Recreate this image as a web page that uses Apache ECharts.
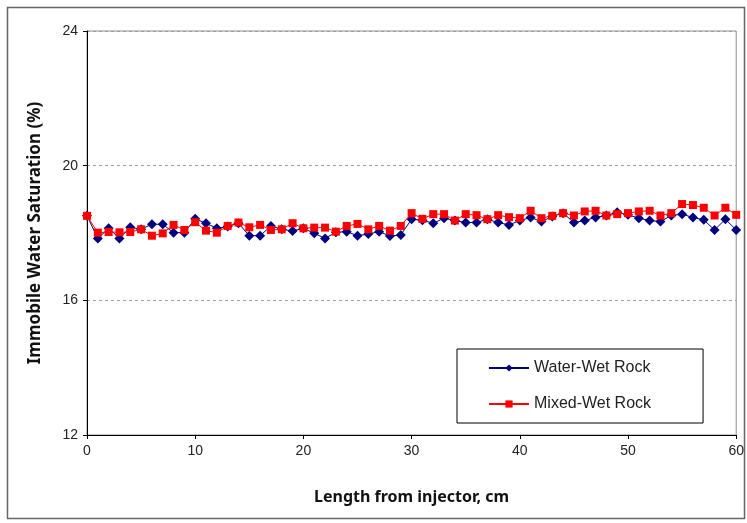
<!DOCTYPE html>
<html>
<head>
<meta charset="utf-8">
<script src="https://cdn.jsdelivr.net/npm/echarts@6/dist/echarts.min.js"></script>
<style>
html,body{margin:0;padding:0;background:#fff;}
#chart{width:747px;height:523px;}
</style>
</head>
<body>
<div id="chart"></div>
<script>
// Distance from injector (cm), sampled every 1 cm
const lengthCm = [0,1,2,3,4,5,6,7,8,9,10,11,12,13,14,15,16,17,18,19,20,
  21,22,23,24,25,26,27,28,29,30,31,32,33,34,35,36,37,38,39,40,
  41,42,43,44,45,46,47,48,49,50,51,52,53,54,55,56,57,58,59,60];

// Immobile water saturation (%) in the water-wet rock
const waterWet = [18.51,17.84,18.14,17.84,18.17,18.11,18.26,18.26,18.01,18.01,18.42,
  18.29,18.14,18.19,18.29,17.92,17.92,18.21,18.11,18.06,18.14,
  17.99,17.84,18.02,18.04,17.92,17.97,18.04,17.91,17.94,18.41,
  18.38,18.29,18.44,18.37,18.31,18.31,18.41,18.31,18.24,18.37,
  18.46,18.34,18.49,18.59,18.31,18.37,18.46,18.52,18.62,18.54,
  18.44,18.37,18.34,18.52,18.56,18.46,18.39,18.09,18.41,18.09];

// Immobile water saturation (%) in the mixed-wet rock
const mixedWet = [18.51,18.01,18.03,18.02,18.03,18.11,17.92,17.99,18.24,18.09,18.32,
  18.07,18.01,18.21,18.31,18.17,18.24,18.09,18.11,18.29,18.14,
  18.16,18.16,18.04,18.21,18.27,18.11,18.21,18.07,18.21,18.59,
  18.42,18.56,18.56,18.37,18.56,18.53,18.41,18.53,18.47,18.44,
  18.66,18.44,18.51,18.59,18.52,18.64,18.66,18.52,18.56,18.59,
  18.64,18.66,18.52,18.59,18.86,18.83,18.75,18.52,18.75,18.54];

const yTicks = [12, 16, 20, 24];
const xTicks = [0, 10, 20, 30, 40, 50, 60];

const pair = (xs, ys) => xs.map((x, i) => [x, ys[i]]);

const chart = echarts.init(document.getElementById('chart'), null, {renderer: 'canvas'});

chart.setOption({
  animation: false,
  backgroundColor: '#fff',
  graphic: [{
    type: 'rect',
    shape: {x: 7.5, y: 7.5, width: 737, height: 511},
    style: {fill: 'none', stroke: '#666', lineWidth: 1.5},
    silent: true,
    z: -1
  }],
  grid: {
    left: 87, right: 10, top: 31, bottom: 88,
    show: true, borderColor: '#8c8c8c', borderWidth: 1
  },
  xAxis: {
    type: 'value',
    min: xTicks[0], max: xTicks[xTicks.length - 1], interval: 10,
    name: 'Length from injector, cm',
    nameLocation: 'middle', nameGap: 54,
    nameTextStyle: {fontFamily: 'Noto Sans', fontWeight: 'bold', fontSize: 16, color: '#111'},
    axisLine: {lineStyle: {color: '#000', width: 1}},
    axisTick: {show: true, length: 4, lineStyle: {color: '#000'}},
    axisLabel: {fontFamily: 'Liberation Sans', fontSize: 14, color: '#222', margin: 9},
    splitLine: {show: false}
  },
  yAxis: {
    type: 'value',
    min: yTicks[0], max: yTicks[yTicks.length - 1], interval: 4,
    name: 'Immobile Water Saturation (%)',
    nameLocation: 'middle', nameGap: 43,
    nameTextStyle: {fontFamily: 'Noto Sans', fontWeight: 'bold', fontSize: 17, color: '#111'},
    axisLine: {show: true, lineStyle: {color: '#000', width: 1}},
    axisTick: {show: true, length: 4, lineStyle: {color: '#000'}},
    axisLabel: {fontFamily: 'Liberation Sans', fontSize: 14, color: '#222', margin: 9},
    splitLine: {show: true, lineStyle: {color: '#a0a0a0', type: [3, 3], width: 1}}
  },
  legend: {
    orient: 'vertical',
    left: 457, top: 349,
    padding: [11, 52, 11, 31],
    itemGap: 20,
    itemWidth: 40, itemHeight: 9,
    borderColor: '#000', borderWidth: 1,
    backgroundColor: '#fff',
    textStyle: {fontFamily: 'Liberation Sans', fontSize: 16, color: '#222'},
    data: ['Water-Wet Rock', 'Mixed-Wet Rock']
  },
  series: [
    {
      name: 'Water-Wet Rock',
      type: 'line',
      data: pair(lengthCm, waterWet),
      symbol: 'diamond', symbolSize: 10,
      lineStyle: {color: '#000080', width: 1},
      itemStyle: {color: '#000080'},
      z: 2
    },
    {
      name: 'Mixed-Wet Rock',
      type: 'line',
      data: pair(lengthCm, mixedWet),
      symbol: 'rect', symbolSize: 8,
      lineStyle: {color: '#ff0000', width: 1},
      itemStyle: {color: '#ff0000'},
      z: 3
    }
  ]
});
</script>
</body>
</html>
